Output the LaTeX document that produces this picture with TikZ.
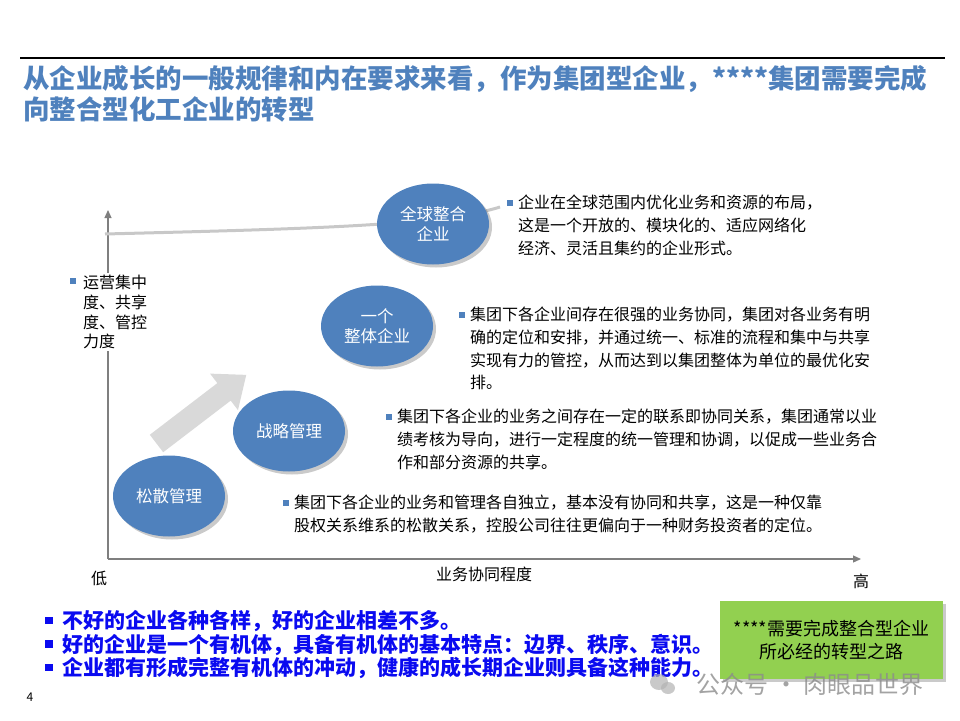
\documentclass[tikz,border=0pt]{standalone}
\usepackage{fontspec}
\setmainfont{Noto Sans CJK SC}
\usetikzlibrary{positioning, arrows.meta, shapes.geometric, shadows, backgrounds}
\definecolor{titleblue}{HTML}{4F81BD}
\definecolor{stagefill}{HTML}{4F81BD}
\definecolor{axisline}{HTML}{7F7F7F}
\definecolor{trendline}{HTML}{C8C8C8}
\definecolor{arrowfill}{HTML}{D9D9D9}
\definecolor{pathfill}{HTML}{92D050}
\definecolor{boldblue}{HTML}{0A0AF0}
\tikzset{
  stage/.style={
    ellipse,
    fill=stagefill,
    text=white,
    align=center,
    font=\fontsize{16.5}{20}\selectfont,
    minimum width=112pt,
    minimum height=81pt,
    inner sep=0pt,
    drop shadow={shadow xshift=3pt, shadow yshift=-3pt, opacity=0.35, fill=black!60},
  },
  note/.style={
    anchor=north west,
    align=left,
    inner sep=0pt,
    font=\fontsize{16}{22.7}\selectfont,
    label={[notesq]north west:{}},
  },
  notesq/.style={
    anchor=east,
    xshift=-5pt,
    yshift=-8pt,
    fill=stagefill,
    minimum size=6pt,
    inner sep=0pt,
  },
  axis/.style={-{Triangle[length=8pt, width=7pt]}, axisline, line width=1.2pt},
  axlabel/.style={font=\fontsize{16}{20}\selectfont, inner sep=0pt},
}
\newcommand{\boldsq}{\makebox[17pt][l]{\color{boldblue}\rule[4.5pt]{7.5pt}{7.5pt}}}

\begin{document}
\begin{tikzpicture}[x=1pt, y=-1pt]
\useasboundingbox (0,0) rectangle (960,720);

% Title
\draw[black, line width=1.5pt] (20,58) -- (945,58);
\node[anchor=north west, inner sep=0pt, align=left, text=titleblue,
  font=\bfseries\fontsize{26.5}{31}\selectfont] (title) at (23,65.5)
  {从企业成长的一般规律和内在要求来看，作为集团型企业，****集团需要完成\\向整合型化工企业的转型};

% Axes
\coordinate (origin) at (108,559);
\coordinate (xtip) at (861,559);
\coordinate (ytip) at (108,210);
\draw[axis] (origin) -- (xtip);
\draw[axis] (origin) -- (ytip);
\node[note, font=\fontsize{16}{19.7}\selectfont, fill=white, inner sep=2pt] (yname) at (81,273)
  {运营集中\\度、共享\\度、管控\\力度};
\node[axlabel] (low) at (99,578) {低};
\node[axlabel] (high) at (861,581) {高};
\node[axlabel] (xname) at (484,574) {业务协同程度};

% Trend line behind the stages
\coordinate (trendstart) at (105,234);
\coordinate (trendend) at (500,207);
\draw[trendline, line width=3pt] (trendstart) .. controls (300,229) and (440,226) .. (trendend);

% Growth arrow
\begin{scope}[shift={(156.5,443.5)}, rotate=37.4]
  \fill[arrowfill] (0,-11) -- (85,-11) -- (85,-23) -- (113,0) -- (85,23) -- (85,11) -- (0,11) -- cycle;
\end{scope}

% Stages
\node[stage] (loose) at (169,496) {松散管理};
\node[stage] (strategic) at (289,431) {战略管理};
\node[stage] (integrated) at (377,326) {一个\\整体企业};
\node[stage] (global) at (433,224) {全球整合\\企业};

% Notes
\node[note] (noteglobal) at (518,195)
  {企业在全球范围内优化业务和资源的布局，\\这是一个开放的、模块化的、适应网络化\\经济、灵活且集约的企业形式。};
\node[note] (noteintegrated) at (470,307)
  {集团下各企业间存在很强的业务协同，集团对各业务有明\\确的定位和安排，并通过统一、标准的流程和集中与共享\\实现有力的管控，从而达到以集团整体为单位的最优化安\\排。};
\node[note] (notestrategic) at (397,409)
  {集团下各企业的业务之间存在一定的联系即协同关系，集团通常以业\\绩考核为导向，进行一定程度的统一管理和协调，以促成一些业务合\\作和部分资源的共享。};
\node[note] (noteloose) at (294,495)
  {集团下各企业的业务和管理各自独立，基本没有协同和共享，这是一种仅靠\\股权关系维系的松散关系，控股公司往往更偏向于一种财务投资者的定位。};

% Bottom statements
\node[anchor=north west, inner sep=0pt, align=left, text=boldblue,
  font=\bfseries\fontsize{21}{23.5}\selectfont] (summary) at (45,610.5)
  {\boldsq 不好的企业各种各样，好的企业相差不多。\\
   \boldsq 好的企业是一个有机体，具备有机体的基本特点：边界、秩序、意识。\\
   \boldsq 企业都有形成完整有机体的冲动，健康的成长期企业则具备这种能力。};

\node[fill=pathfill, minimum width=223pt, minimum height=78pt, inner sep=0pt, align=center,
  font=\fontsize{18}{23}\selectfont,
  drop shadow={shadow xshift=3pt, shadow yshift=-3pt, opacity=0.35, fill=black!60}] (pathbox) at (831.5,640)
  {****需要完成整合型企业\\所必经的转型之路};

% Watermark
\fill[black!30, opacity=0.7] (659,682) ellipse (9pt and 8pt);
\fill[black!30, opacity=0.7] (668,688) ellipse (7pt and 6pt);
\node[text=black!45, text opacity=0.8, font=\fontsize{24}{28}\selectfont, inner sep=0pt] (wmark) at (810,684) {公众号 · 肉眼品世界};

\node[font=\fontsize{12}{14}\selectfont, inner sep=0pt] (pageno) at (30,697) {4};
\end{tikzpicture}
\end{document}
